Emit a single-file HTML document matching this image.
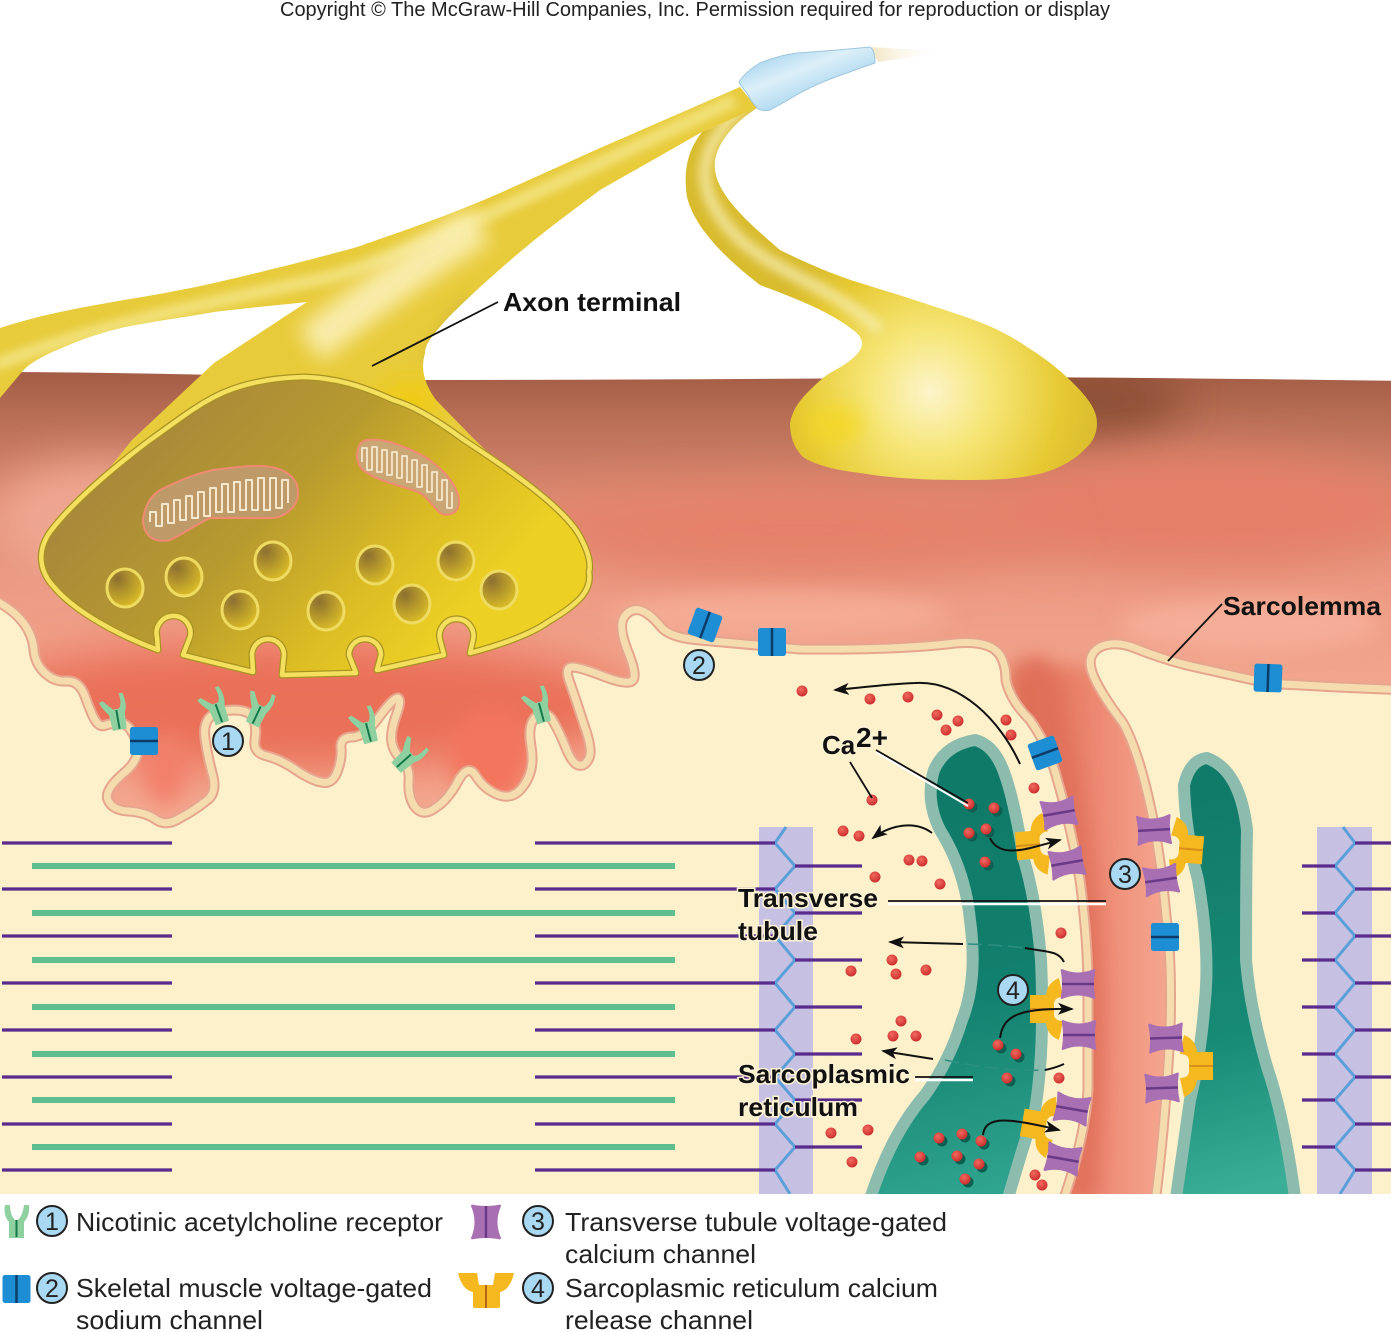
<!DOCTYPE html>
<html><head><meta charset="utf-8"><style>
html,body{margin:0;padding:0;background:#fff}
svg{display:block}
text{font-family:"Liberation Sans",sans-serif}
.b{font-weight:bold;font-size:26px;fill:#111}
.h{paint-order:stroke;stroke:#fdf3d4;stroke-width:3px}
.l{font-size:26px;fill:#222}
.n{font-size:25px;fill:#222;text-anchor:middle}
</style></head><body>
<svg width="1391" height="1332" viewBox="0 0 1391 1332" xmlns="http://www.w3.org/2000/svg">
<defs>
<linearGradient id="sal" x1="0" y1="372" x2="0" y2="700" gradientUnits="userSpaceOnUse">
<stop offset="0" stop-color="#a35c45"/><stop offset=".12" stop-color="#b56c53"/><stop offset=".4" stop-color="#dd8a72"/><stop offset=".7" stop-color="#ee9c85"/><stop offset="1" stop-color="#f3a78f"/></linearGradient>
<linearGradient id="term" x1="180" y1="400" x2="440" y2="640" gradientUnits="userSpaceOnUse">
<stop offset="0" stop-color="#a88a3a"/><stop offset=".4" stop-color="#b79a2e"/><stop offset=".75" stop-color="#dcbd24"/><stop offset="1" stop-color="#ecd023"/></linearGradient>
<radialGradient id="bul" gradientUnits="userSpaceOnUse" cx="930" cy="392" r="175">
<stop offset="0" stop-color="#fcf4ca"/><stop offset=".35" stop-color="#f6e677"/><stop offset=".75" stop-color="#e6c932"/><stop offset="1" stop-color="#d9bb2e"/></radialGradient>
<linearGradient id="tail" x1="875" y1="55" x2="945" y2="50" gradientUnits="userSpaceOnUse">
<stop offset="0" stop-color="#f3e8c8"/><stop offset="1" stop-color="#fff" stop-opacity="0"/></linearGradient>
<radialGradient id="ves" cx=".3" cy=".25" r=".85"><stop offset="0" stop-color="#8d7030"/><stop offset="1" stop-color="#e0c226"/></radialGradient>
<radialGradient id="ca" cx=".4" cy=".35" r=".7"><stop offset="0" stop-color="#f26a5e"/><stop offset="1" stop-color="#c92a2a"/></radialGradient>
<linearGradient id="tealA" x1="950" y1="800" x2="1040" y2="1180" gradientUnits="userSpaceOnUse">
<stop offset="0" stop-color="#0f7a68"/><stop offset=".5" stop-color="#12806e"/><stop offset="1" stop-color="#2fa48e"/></linearGradient>
<linearGradient id="tealB" x1="1190" y1="800" x2="1290" y2="1180" gradientUnits="userSpaceOnUse">
<stop offset="0" stop-color="#117b69"/><stop offset=".6" stop-color="#178a75"/><stop offset="1" stop-color="#3aae97"/></linearGradient>
<linearGradient id="tub" x1="1030" y1="900" x2="1175" y2="900" gradientUnits="userSpaceOnUse">
<stop offset="0" stop-color="#de6c52"/><stop offset=".5" stop-color="#ee8b74"/><stop offset="1" stop-color="#f6aa94"/></linearGradient>
<linearGradient id="mye" x1="780" y1="55" x2="800" y2="105" gradientUnits="userSpaceOnUse">
<stop offset="0" stop-color="#b5dcf1"/><stop offset=".4" stop-color="#dceff9"/><stop offset="1" stop-color="#a9d6ef"/></linearGradient>
<filter id="bl" x="-50%" y="-50%" width="200%" height="200%"><feGaussianBlur stdDeviation="22"/></filter>
<filter id="bl2" x="-50%" y="-50%" width="200%" height="200%"><feGaussianBlur stdDeviation="10"/></filter>
<filter id="bl3" x="-50%" y="-50%" width="200%" height="200%"><feGaussianBlur stdDeviation="5"/></filter>
<marker id="ar" viewBox="0 0 16 12" refX="14" refY="6" markerWidth="16" markerHeight="12" orient="auto" markerUnits="userSpaceOnUse"><path d="M0,0 L16,6 L0,12 L4,6 Z" fill="#111"/></marker>
<path id="m" d="M-20,592 L0,603 Q17,613 25,625 Q33,637 34,650 Q35,663 44,672 Q54,682 66,681 Q79,680 85,696 Q91,713 95,720 Q100,728 106,725 Q112,723 120,723 Q129,723 136,740 Q143,757 124,773 Q104,790 108,800 Q112,810 128,811 Q145,812 155,819 Q166,827 180,818 Q195,810 206,801 Q218,793 212,773 Q207,753 205,738 Q203,723 211,716 Q220,710 234,710 Q249,710 253,718 Q257,727 255,740 Q253,753 267,756 Q282,760 296,770 Q311,780 321,782 Q332,785 337,772 Q342,760 341,748 Q340,737 352,737 Q365,737 379,717 Q394,697 398,698 Q402,700 396,716 Q390,733 392,743 Q394,753 402,760 Q410,767 409,782 Q408,797 415,807 Q423,817 435,808 Q448,800 458,781 Q468,763 476,776 Q485,790 499,795 Q514,800 524,785 Q535,770 531,746 Q527,723 537,716 Q547,710 553,721 Q560,733 566,748 Q572,763 578,765 Q585,767 589,758 Q593,750 584,725 Q576,700 570,683 Q564,667 572,667 Q580,667 603,676 Q626,685 632,681 Q638,677 628,652 Q618,627 624,617 Q630,608 640,610 Q650,613 662,628 Q672,638 700,640 L800,649 Q900,650 955,643 Q990,640 1000,655 Q1006,665 1006,680 Q1010,700 1030,720 Q1048,745 1056,775 Q1072,830 1080,880 Q1088,940 1088,990 L1088,1090 Q1085,1140 1060,1210 L1154,1210 Q1165,1130 1170,1030 Q1172,960 1166,916 Q1160,850 1150,805 Q1138,750 1123,723 Q1098,690 1092,672 Q1086,655 1100,647 Q1115,640 1135,648 Q1170,662 1200,668 L1267,683 Q1330,687 1411,690 L1411,381 Q1200,378 1000,377 Q700,380 400,380 Q150,372 -20,372 Z"/>
<path id="t" d="M304,377 C265,378 235,386 214,397 C195,407 185,415 150,440 C110,470 70,505 50,532 C36,552 40,572 54,587 C75,612 120,636 158,650 L157,637 A17,17 0 1 1 190,637 L183,655 L253,672 L252,655 A16,16 0 1 1 284,655 L282,675 L356,673 L349,655 A16,16 0 1 1 381,655 L377,670 L444,655 L440,640 A17,17 0 1 1 473,640 L470,653 C500,645 530,635 548,622 C580,603 592,590 589,572 C592,560 585,545 578,533 C560,505 510,470 464,440 C430,415 410,405 393,400 C360,385 335,378 304,377 Z"/>
<path id="tr" d="M-5,330 L0,328 C70,305 140,300 214,283 C270,270 310,260 357,247 C400,232 450,215 500,193 L600,148 L740,87 L757,108 L702,132 L600,190 L560,220 C520,250 470,295 446,320 C430,338 425,345 425,353 C420,370 425,385 436,400 L475,440 L580,540 L60,530 L132,440 L214,363 L307,302 C280,305 245,308 214,312 C180,318 150,322 125,327 C100,333 85,338 64,347 C45,355 30,362 21,373 L0,398 L-5,404 Z"/>
<path id="ra" d="M757,108 C730,125 712,150 715,170 C718,195 745,220 780,250 C810,265 835,275 860,283 C900,295 930,305 960,315 C990,325 1010,335 1027,347 C1045,358 1060,370 1073,383 C1088,398 1097,410 1097,423 C1097,433 1093,442 1087,447 C1075,460 1060,468 1043,473 C1015,480 990,480 960,480 C920,480 890,478 860,473 C835,470 815,465 803,457 C793,447 790,435 790,423 C792,412 798,402 807,393 C815,385 822,378 830,373 C845,365 855,358 860,350 C865,342 860,335 853,330 C830,312 800,300 760,285 C730,262 695,230 687,197 C683,170 688,150 702,132 Z"/>
<clipPath id="mc"><use href="#m"/></clipPath>
<clipPath id="trc"><use href="#tr"/></clipPath>
<clipPath id="rac"><use href="#ra"/></clipPath>
<clipPath id="lo"><rect x="-30" y="588" width="1460" height="606"/></clipPath>
<clipPath id="bot"><rect x="0" y="0" width="1391" height="1194"/></clipPath>
<g id="pu"><path d="M-16,-15 Q0,-8 16,-15 Q18,-15 17,-12 Q15,0 17,12 Q18,15 16,15 Q0,8 -16,15 Q-18,15 -17,12 Q-15,0 -17,-12 Q-18,-15 -16,-15Z" fill="#a96fb3"/><path d="M-16,0 L16,0" stroke="#6a3a86" stroke-width="2.5"/></g>
<g id="bh"><rect x="-14" y="-14" width="28" height="28" rx="2.5" fill="#1d8ed4"/><path d="M-14,0 L14,0" stroke="#0d3d66" stroke-width="2.5"/></g>
<g id="gr"><path d="M-7,16 L-8,0 Q-14,-8 -16,-14 L-12,-15 Q-6,-8 -3,-5 L3,-5 Q7,-10 5,-20 L9,-20 Q12,-8 8,0 L7,16 Z" fill="#8ed09f"/><path d="M0,-4 L0,15" stroke="#14794a" stroke-width="2"/></g>
<g id="ye"><path d="M-15,-14 L1,-14 Q2,-26 14,-31 L18,-12 Q10,-12 9,-6 L9,6 Q10,12 18,12 L14,31 Q2,26 1,14 L-15,14 Z" fill="#f6b81f"/><path d="M-15,0 L9,0" stroke="#d78f1a" stroke-width="2"/></g>
</defs>

<rect width="1391" height="1332" fill="#fff"/>
<text x="280" y="16" font-size="20" fill="#222" textLength="830" lengthAdjust="spacingAndGlyphs">Copyright © The McGraw-Hill Companies, Inc. Permission required for reproduction or display</text>

<!-- cell body -->
<rect x="0" y="560" width="1391" height="634" fill="#fdf1cc"/>

<!-- Z-disks -->
<rect x="759" y="827" width="54" height="367" fill="#c6c1e3"/>
<rect x="1317" y="827" width="55" height="367" fill="#c6c1e3"/>
<g fill="none" stroke="#5a9fd8" stroke-width="3" stroke-linejoin="miter">
<path d="M786,827 L775,843 L795,866 L775,889 L795,913 L775,936 L795,960 L775,983 L795,1007 L775,1030 L795,1054 L775,1077 L795,1100 L775,1124 L795,1147 L775,1170 L790,1194"/>
<path d="M1343,827 L1355,843 L1335,866 L1355,889 L1335,913 L1355,936 L1335,960 L1355,983 L1335,1007 L1355,1030 L1335,1054 L1355,1077 L1335,1100 L1355,1124 L1335,1147 L1355,1170 L1340,1194"/>
</g>
<g stroke="#582b8c" stroke-width="3.2">
<path d="M2,843H172M2,889H172M2,936H172M2,983H172M2,1030H172M2,1077H172M2,1124H172M2,1170H172"/>
<path d="M535,843H775M535,889H775M535,936H775M535,983H775M535,1030H775M535,1077H775M535,1124H775M535,1170H775"/>
<path d="M795,866H862M795,913H862M795,960H862M795,1007H862M795,1054H862M795,1100H862M795,1147H862"/>
<path d="M1302,866H1335M1302,913H1335M1302,960H1335M1302,1007H1335M1302,1054H1335M1302,1100H1335M1302,1147H1335"/>
<path d="M1355,843H1391M1355,889H1391M1355,936H1391M1355,983H1391M1355,1030H1391M1355,1077H1391M1355,1124H1391M1355,1170H1391"/>
</g>
<g stroke="#5fbe90" stroke-width="6">
<path d="M32,866H675M32,913H675M32,960H675M32,1007H675M32,1054H675M32,1100H675M32,1147H675"/>
</g>

<!-- SR teal -->
<g clip-path="url(#bot)" stroke="#8bbcae" stroke-width="12" stroke-linejoin="round">
<path d="M975,740 Q945,745 934,770 Q925,800 940,830 Q965,870 970,920 Q978,980 962,1020 Q950,1060 925,1095 Q890,1135 868,1205 L1006,1205 Q1022,1150 1035,1110 Q1045,1050 1041,960 Q1036,900 1024,860 Q1014,800 1005,775 Q995,745 975,740 Z" fill="url(#tealA)"/>
<path d="M1207,758 Q1190,760 1184,785 Q1185,830 1198,880 Q1210,950 1205,1000 Q1200,1060 1190,1100 L1175,1205 L1296,1205 Q1285,1120 1268,1070 Q1250,1010 1246,960 Q1246,880 1247,830 Q1240,770 1207,758 Z" fill="url(#tealB)"/>
</g>

<!-- Synaptic cleft + T-tubule -->
<use href="#m" fill="url(#sal)"/>
<g clip-path="url(#mc)">
<ellipse cx="100" cy="520" rx="110" ry="60" fill="#efa690" filter="url(#bl)"/>
<ellipse cx="300" cy="705" rx="340" ry="65" fill="#ea6f58" filter="url(#bl)"/>
<ellipse cx="490" cy="755" rx="40" ry="50" fill="#f3745d" filter="url(#bl2)"/>
<ellipse cx="1095" cy="400" rx="90" ry="35" fill="#8c4f36" filter="url(#bl)"/>
<ellipse cx="1200" cy="510" rx="220" ry="55" fill="#e57f68" filter="url(#bl)"/>
<ellipse cx="800" cy="530" rx="260" ry="45" fill="#e58169" filter="url(#bl)"/>
<ellipse cx="780" cy="615" rx="170" ry="22" fill="#f5ab94" filter="url(#bl2)"/>
<ellipse cx="1250" cy="625" rx="130" ry="25" fill="#f6ae98" filter="url(#bl2)"/>
<rect x="1010" y="665" width="170" height="560" fill="url(#tub)" filter="url(#bl2)"/>
<path d="M1030,660 Q1060,720 1078,860 Q1098,1000 1082,1200" stroke="#e0705a" stroke-width="26" fill="none" filter="url(#bl2)"/>
<ellipse cx="165" cy="770" rx="22" ry="35" fill="#f2806a" filter="url(#bl2)"/>
</g>
<g clip-path="url(#lo)" fill="none" stroke-linejoin="round">
<use href="#m" stroke="#e6a58d" stroke-width="11"/>
<use href="#m" stroke="#f5dcae" stroke-width="7"/>
</g>
<rect x="0" y="1194" width="1391" height="138" fill="#fff"/>

<!-- axons -->
<path d="M870,47 L943,51 Q910,58 878,62 Z" fill="url(#tail)"/>
<use href="#ra" fill="url(#bul)"/>
<g clip-path="url(#rac)">
<ellipse cx="835" cy="425" rx="28" ry="22" fill="#f5d822" opacity=".75" filter="url(#bl2)"/>
<path d="M745,105 C695,150 690,190 740,240 C780,275 830,285 880,330" stroke="#f6edb0" stroke-width="12" opacity=".8" fill="none" filter="url(#bl3)"/>
</g>
<use href="#tr" fill="#e8cb3a"/>
<g clip-path="url(#trc)">
<path d="M-5,365 C100,325 200,305 330,277 C420,250 520,200 735,100" stroke="#f5ea95" stroke-width="12" opacity=".8" fill="none" filter="url(#bl3)"/>
<path d="M310,345 C345,318 410,268 480,225" stroke="#fbf0b8" stroke-width="40" opacity=".9" fill="none" filter="url(#bl2)"/>
<path d="M470,300 C445,325 430,345 430,365" stroke="#d6b93a" stroke-width="16" opacity=".7" fill="none" filter="url(#bl3)"/>
<ellipse cx="410" cy="400" rx="30" ry="20" fill="#efcb18" filter="url(#bl2)"/>
</g>
<path d="M739,82 Q745,72 760,63 Q780,55 797,53 Q840,50 870,47 Q875,50 875,63 Q860,68 847,73 Q820,82 800,93 Q785,102 770,110 Q762,112 757,108 Q750,100 747,93 Q742,88 739,82 Z" fill="url(#mye)" stroke="#9fc6de"/>

<!-- terminal -->
<use href="#t" fill="url(#term)" stroke="#a89322" stroke-width="7" stroke-linejoin="round"/>
<use href="#t" fill="none" stroke="#f4e05e" stroke-width="4.5" stroke-linejoin="round"/>
<g fill="url(#ves)" stroke="#efdb62" stroke-width="3">
<ellipse cx="125" cy="588" rx="18" ry="19"/><ellipse cx="184" cy="577" rx="18" ry="19"/><ellipse cx="273" cy="561" rx="18" ry="19"/><ellipse cx="240" cy="610" rx="18" ry="19"/><ellipse cx="326" cy="611" rx="18" ry="19"/><ellipse cx="375" cy="565" rx="18" ry="19"/><ellipse cx="412" cy="604" rx="18" ry="19"/><ellipse cx="456" cy="561" rx="18" ry="19"/><ellipse cx="499" cy="590" rx="18" ry="19"/>
</g>
<path d="M143,520 C145,505 150,497 160,490 C180,480 195,474 213,470 C230,468 240,466 257,466 C270,466 280,468 287,473 C295,478 298,485 298,492 C298,500 295,506 290,510 C285,515 278,518 270,518 L210,518 C195,525 185,533 170,540 C160,542 155,540 150,537 C145,532 143,527 143,520 Z" fill="#bd9a68" stroke="#f08a72" stroke-width="2"/>
<path d="M150,522 V512 H156 V526 H162 V504 H168 V523 H174 V500 H180 V520 H186 V496 H192 V518 H198 V492 H204 V516 H210 V488 H216 V512 H222 V484 H228 V512 H234 V482 H240 V510 H246 V480 H252 V510 H258 V478 H264 V510 H270 V478 H276 V508 H282 V480 H288 V503" fill="none" stroke="#f6e8cc" stroke-width="2" stroke-linejoin="round"/>
<path d="M357,457 C357,447 360,441 367,440 C375,439 382,440 390,442 C405,447 418,452 430,460 C445,472 455,483 458,495 C460,503 459,508 455,512 C450,515 445,516 440,513 C432,505 428,498 420,493 C410,488 400,487 390,483 C380,480 370,476 363,470 C359,466 357,462 357,457 Z" fill="#c9a673" stroke="#f08a72" stroke-width="2"/>
<path d="M362,462 V448 H367 V470 H372 V447 H377 V472 H382 V450 H387 V475 H392 V452 H397 V478 H402 V456 H407 V482 H412 V460 H417 V487 H422 V465 H427 V492 H432 V472 H437 V500 H442 V480 H447 V508 H452 V492" fill="none" stroke="#f6e8cc" stroke-width="1.8" stroke-linejoin="round"/>

<!-- receptors -->
<use href="#gr" transform="translate(117,714) rotate(-10)"/>
<use href="#gr" transform="translate(217,708) rotate(-20)"/>
<use href="#gr" transform="translate(259,710) rotate(25)"/>
<use href="#gr" transform="translate(367,727) rotate(-15)"/>
<use href="#gr" transform="translate(408,757) rotate(48)"/>
<use href="#gr" transform="translate(540,707) rotate(-15)"/>

<use href="#bh" transform="translate(144,741)"/>
<use href="#bh" transform="translate(705,625) rotate(110)"/>
<use href="#bh" transform="translate(772,642) rotate(90)"/>
<use href="#bh" transform="translate(1045,753) rotate(-20)"/>
<use href="#bh" transform="translate(1165,937)"/>
<use href="#bh" transform="translate(1268,678) rotate(92)"/>

<use href="#ye" transform="translate(1031,845) rotate(-5)"/>
<use href="#ye" transform="translate(1045,1009)"/>
<use href="#ye" transform="translate(1037,1125) rotate(10)"/>
<use href="#ye" transform="translate(1188,849) scale(-1,1) rotate(-5)"/>
<use href="#ye" transform="translate(1198,1066) scale(-1,1)"/>

<use href="#pu" transform="translate(1059,813) rotate(-10)"/>
<use href="#pu" transform="translate(1067,863) rotate(-10)"/>
<use href="#pu" transform="translate(1154,830) rotate(-3)"/>
<use href="#pu" transform="translate(1161,880) rotate(-8)"/>
<use href="#pu" transform="translate(1078,984)"/>
<use href="#pu" transform="translate(1079,1035)"/>
<use href="#pu" transform="translate(1166,1038) rotate(-2)"/>
<use href="#pu" transform="translate(1162,1088) rotate(-2)"/>
<use href="#pu" transform="translate(1072,1109) rotate(10)"/>
<use href="#pu" transform="translate(1063,1159) rotate(10)"/>

<!-- Ca dot shadows in SR -->
<g fill="#0b5f50" transform="translate(3,3)">
<circle cx="969" cy="804" r="5.5"/><circle cx="994" cy="808" r="5.5"/><circle cx="969" cy="833" r="5.5"/><circle cx="986" cy="829" r="5.5"/><circle cx="985" cy="862" r="5.5"/><circle cx="998" cy="1045" r="5.5"/><circle cx="1016" cy="1054" r="5.5"/><circle cx="1007" cy="1078" r="5.5"/><circle cx="939" cy="1138" r="5.5"/><circle cx="962" cy="1134" r="5.5"/><circle cx="981" cy="1141" r="5.5"/><circle cx="920" cy="1157" r="5.5"/><circle cx="957" cy="1156" r="5.5"/><circle cx="979" cy="1164" r="5.5"/><circle cx="965" cy="1179" r="5.5"/>
</g>
<!-- Ca dots -->
<g fill="url(#ca)">
<circle cx="802" cy="691" r="5.5"/><circle cx="870" cy="699" r="5.5"/><circle cx="908" cy="697" r="5.5"/><circle cx="937" cy="715" r="5.5"/><circle cx="958" cy="721" r="5.5"/><circle cx="946" cy="730" r="5.5"/><circle cx="1006" cy="720" r="5.5"/><circle cx="1011" cy="735" r="5.5"/><circle cx="1034" cy="788" r="5.5"/><circle cx="872" cy="800" r="5.5"/><circle cx="969" cy="804" r="5.5"/><circle cx="994" cy="808" r="5.5"/><circle cx="969" cy="833" r="5.5"/><circle cx="986" cy="829" r="5.5"/><circle cx="985" cy="862" r="5.5"/><circle cx="843" cy="831" r="5.5"/><circle cx="859" cy="836" r="5.5"/><circle cx="909" cy="860" r="5.5"/><circle cx="922" cy="861" r="5.5"/><circle cx="875" cy="877" r="5.5"/><circle cx="940" cy="884" r="5.5"/><circle cx="1061" cy="933" r="5.5"/><circle cx="892" cy="960" r="5.5"/><circle cx="851" cy="971" r="5.5"/><circle cx="896" cy="974" r="5.5"/><circle cx="926" cy="970" r="5.5"/><circle cx="901" cy="1021" r="5.5"/><circle cx="856" cy="1039" r="5.5"/><circle cx="893" cy="1036" r="5.5"/><circle cx="916" cy="1036" r="5.5"/><circle cx="998" cy="1045" r="5.5"/><circle cx="1016" cy="1054" r="5.5"/><circle cx="1007" cy="1078" r="5.5"/><circle cx="1059" cy="1078" r="5.5"/><circle cx="831" cy="1133" r="5.5"/><circle cx="868" cy="1130" r="5.5"/><circle cx="852" cy="1162" r="5.5"/><circle cx="939" cy="1138" r="5.5"/><circle cx="962" cy="1134" r="5.5"/><circle cx="981" cy="1141" r="5.5"/><circle cx="920" cy="1157" r="5.5"/><circle cx="957" cy="1156" r="5.5"/><circle cx="979" cy="1164" r="5.5"/><circle cx="965" cy="1179" r="5.5"/><circle cx="1035" cy="1175" r="5.5"/><circle cx="1042" cy="1185" r="5.5"/>
</g>

<!-- arrows -->
<g fill="none" stroke="#111" stroke-width="2">
<path d="M1020,764 C1000,720 960,680 915,683 C885,684 860,688 835,690" marker-end="url(#ar)"/>
<path d="M932,833 C915,820 890,825 873,838" marker-end="url(#ar)"/>
<path d="M990,838 C1000,860 1030,848 1060,840" marker-end="url(#ar)"/>
<path d="M1064,962 C1058,950 1045,952 1025,948"/>
<path d="M963,944 L890,942" marker-end="url(#ar)"/>
<path d="M1000,1038 C1003,1015 1020,1008 1072,1009" marker-end="url(#ar)"/>
<path d="M1064,1064 C1055,1068 1050,1069 1045,1070"/>
<path d="M933,1059 L883,1051" marker-end="url(#ar)"/>
<path d="M983,1135 C985,1115 1010,1118 1059,1130" marker-end="url(#ar)"/>
</g>
<g fill="none" stroke="#2d8f80" stroke-width="1.5" stroke-dasharray="14 6">
<path d="M968,944 Q1000,945 1025,948"/><path d="M945,1060 Q1000,1072 1045,1070"/>
</g>

<!-- leader lines -->
<g stroke="#111" stroke-width="1.8" fill="none">
<path d="M372,366 L498,302"/><path d="M1168,661 L1222,604"/><path d="M850,762 L872,798"/>
</g>
<path d="M876,752 L968,806" stroke="#fff" stroke-width="2"/><path d="M876,750 L968,803" stroke="#111" stroke-width="1.8"/>
<path d="M888,904 H1106" stroke="#fff" stroke-width="2.5"/><path d="M888,901 H1106" stroke="#111" stroke-width="1.8"/>
<path d="M915,1080 H973" stroke="#fff" stroke-width="2.5"/><path d="M915,1077 H973" stroke="#111" stroke-width="1.8"/>

<!-- labels -->
<text class="b" x="503" y="311" textLength="178" lengthAdjust="spacingAndGlyphs">Axon terminal</text>
<text class="b" x="1223" y="615" textLength="158" lengthAdjust="spacingAndGlyphs">Sarcolemma</text>
<text class="b h" x="738" y="907" textLength="140" lengthAdjust="spacingAndGlyphs">Transverse</text>
<text class="b h" x="738" y="940" textLength="80" lengthAdjust="spacingAndGlyphs">tubule</text>
<text class="b h" x="738" y="1083" textLength="172" lengthAdjust="spacingAndGlyphs">Sarcoplasmic</text>
<text class="b h" x="738" y="1116" textLength="120" lengthAdjust="spacingAndGlyphs">reticulum</text>
<text class="b h" x="822" y="754">Ca</text><text class="b h" x="856" y="747" style="font-size:28px">2+</text>

<!-- numbered circles -->
<g fill="#a9d9f2" stroke="#222" stroke-width="2">
<circle cx="228" cy="741" r="15"/><circle cx="699" cy="665" r="15"/><circle cx="1125" cy="874" r="15"/><circle cx="1013" cy="990" r="15"/>
<circle cx="52" cy="1221" r="15"/><circle cx="52" cy="1288" r="15"/><circle cx="538" cy="1221" r="15"/><circle cx="538" cy="1288" r="15"/>
</g>
<text class="n" x="228" y="750">1</text><text class="n" x="699" y="674">2</text><text class="n" x="1125" y="883">3</text><text class="n" x="1013" y="999">4</text>
<text class="n" x="52" y="1230">1</text><text class="n" x="52" y="1297">2</text><text class="n" x="538" y="1230">3</text><text class="n" x="538" y="1297">4</text>

<!-- legend -->
<path d="M5,1205 L10,1205 Q10,1215 15,1220 L18,1220 Q23,1215 24,1205 L29,1205 Q30,1215 24,1222 L24,1238 L9,1238 L9,1222 Q3,1215 5,1205Z" fill="#8ed09f"/>
<path d="M16.5,1220 V1237" stroke="#14794a" stroke-width="2"/>
<use href="#bh" transform="translate(16.5,1289) rotate(90)"/>
<use href="#pu" transform="translate(486,1222) rotate(90)"/>
<path d="M458,1273 L477,1273 L479,1285 L493,1285 L495,1273 L514,1273 Q510,1290 500,1292 L500,1306 Q500,1308 498,1308 L475,1308 Q473,1308 473,1306 L473,1292 Q462,1290 458,1273Z" fill="#f6b81f"/>
<path d="M486,1285 V1308" stroke="#b5651d" stroke-width="2"/>
<text class="l" x="76" y="1231" textLength="367" lengthAdjust="spacingAndGlyphs">Nicotinic acetylcholine receptor</text>
<text class="l" x="76" y="1297" textLength="356" lengthAdjust="spacingAndGlyphs">Skeletal muscle voltage-gated</text>
<text class="l" x="76" y="1329" textLength="187" lengthAdjust="spacingAndGlyphs">sodium channel</text>
<text class="l" x="565" y="1231" textLength="382" lengthAdjust="spacingAndGlyphs">Transverse tubule voltage-gated</text>
<text class="l" x="565" y="1263" textLength="191" lengthAdjust="spacingAndGlyphs">calcium channel</text>
<text class="l" x="565" y="1297" textLength="373" lengthAdjust="spacingAndGlyphs">Sarcoplasmic reticulum calcium</text>
<text class="l" x="565" y="1329" textLength="188" lengthAdjust="spacingAndGlyphs">release channel</text>
</svg>
</body></html>
